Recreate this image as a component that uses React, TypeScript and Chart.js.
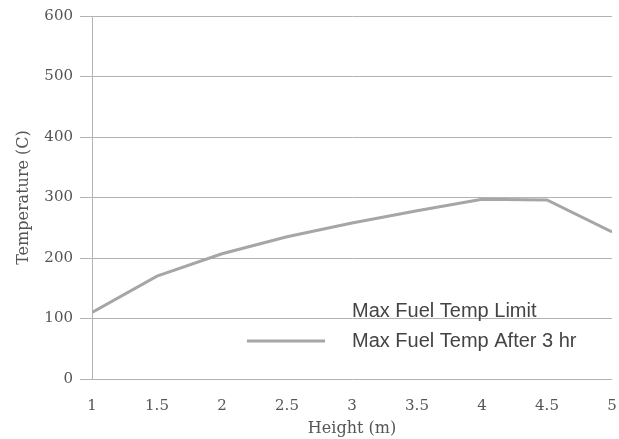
import React, { useEffect, useRef } from "react";
import { Chart, registerables } from "chart.js";

Chart.register(...registerables);

const heights = [1, 1.5, 2, 2.5, 3, 3.5, 4, 4.5, 5];
const tempAfter3hr = [110, 170, 207, 235, 258, 278, 297, 296, 243];
const tempLimit: number[] = [];
const seriesNames = ["Max Fuel Temp Limit", "Max Fuel Temp After 3 hr"];
const xTickLabels = ["1", "1.5", "2", "2.5", "3", "3.5", "4", "4.5", "5"];
const yTicks = [0, 100, 200, 300, 400, 500, 600];
const xTitle = "Height (m)";
const yTitle = "Temperature (C)";

const GRID = "#b3b3b3";
const TEXT = "#555555";
const LINE = "#a6a6a6";

const legendPlugin = {
  id: "insideLegend",
  afterDraw(chart: any) {
    const ctx = chart.ctx;
    const ds = chart.data.datasets;
    const x0 = 352;
    const rows = [311, 341];
    ctx.save();
    ctx.font = "20px 'Liberation Sans', Arial, sans-serif";
    ctx.fillStyle = "#444444";
    ctx.textBaseline = "middle";
    ctx.textAlign = "left";
    ds.forEach((d: any, i: number) => {
      const y = rows[i];
      if (d.borderColor && d.borderColor !== "rgba(0,0,0,0)") {
        ctx.strokeStyle = d.borderColor;
        ctx.lineWidth = d.borderWidth;
        ctx.beginPath();
        ctx.moveTo(247, y);
        ctx.lineTo(325, y);
        ctx.stroke();
      }
      ctx.fillText(d.label, x0, y);
    });
    ctx.restore();
  },
};

export default function App() {
  const ref = useRef<HTMLCanvasElement | null>(null);
  useEffect(() => {
    if (!ref.current) return;
    const chart = new Chart(ref.current, {
      type: "line",
      data: {
        datasets: [
          {
            label: seriesNames[0],
            data: tempLimit.map((v, i) => ({ x: heights[i], y: v })),
            borderColor: "rgba(0,0,0,0)",
            borderWidth: 3,
            pointRadius: 0,
          },
          {
            label: seriesNames[1],
            data: heights.map((h, i) => ({ x: h, y: tempAfter3hr[i] })),
            borderColor: LINE,
            borderWidth: 3,
            pointRadius: 0,
            tension: 0,
          },
        ],
      },
      options: {
        animation: false,
        responsive: true,
        maintainAspectRatio: false,
        layout: { padding: { top: 16, right: 7, left: 0, bottom: 0 } },
        plugins: { legend: { display: false }, tooltip: { enabled: false } },
        scales: {
          x: {
            type: "linear",
            min: heights[0],
            max: heights[heights.length - 1],
            afterFit: (s: any) => {
              s.height = 60;
            },
            afterBuildTicks: (s: any) => {
              s.ticks = heights.map((v) => ({ value: v }));
            },
            grid: { display: true, drawOnChartArea: false, drawTicks: true, tickLength: 16, color: "rgba(0,0,0,0)" },
            border: { display: false },
            ticks: {
              padding: 2,
              color: TEXT,
              font: { family: "'DejaVu Serif', serif", size: 15 },
              maxRotation: 0,
              autoSkip: false,
              callback: (_v: any, i: number) => xTickLabels[i],
            },
            title: {
              display: true,
              text: xTitle,
              color: TEXT,
              font: { family: "'DejaVu Serif', serif", size: 16 },
              padding: { top: 0, bottom: 1 },
            },
          },
          y: {
            min: yTicks[0],
            max: yTicks[yTicks.length - 1],
            afterFit: (s: any) => {
              s.width = 92;
            },
            afterBuildTicks: (s: any) => {
              s.ticks = yTicks.map((v) => ({ value: v }));
            },
            grid: { color: GRID, lineWidth: 1, tickLength: 12 },
            border: { display: true, color: GRID, width: 1 },
            ticks: {
              padding: 7,
              color: TEXT,
              font: { family: "'DejaVu Serif', serif", size: 15 },
            },
            title: {
              display: true,
              text: yTitle,
              color: TEXT,
              font: { family: "'DejaVu Serif', serif", size: 16 },
              padding: { top: 14, bottom: 0 },
            },
          },
        },
      },
      plugins: [legendPlugin],
    });
    return () => chart.destroy();
  }, []);
  return (
    <div style={{ position: "fixed", left: 0, top: 0, width: 619, height: 439, background: "#ffffff" }}>
      <canvas ref={ref} />
    </div>
  );
}
